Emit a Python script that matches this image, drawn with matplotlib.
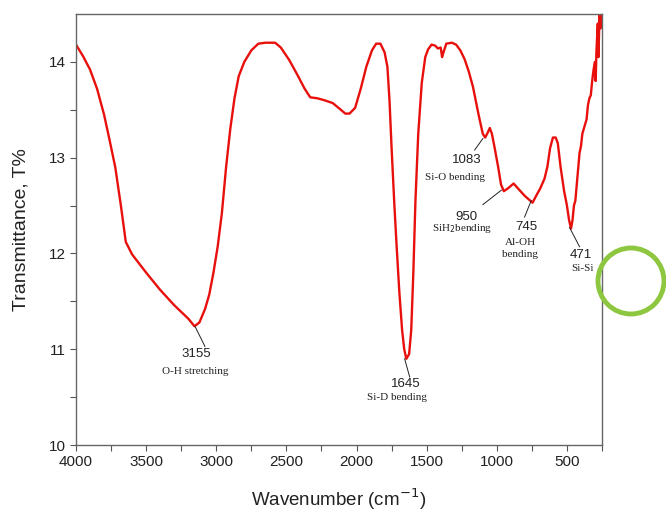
import matplotlib
matplotlib.use("Agg")
import matplotlib.pyplot as plt
from matplotlib.patches import Ellipse

# FTIR spectrum
wavenumber = [4000, 3950, 3900, 3850, 3800, 3760, 3720, 3680, 3645, 3600,
              3500, 3400, 3300, 3200, 3155, 3120, 3080, 3050, 3020, 2990,
              2960, 2930, 2900, 2870, 2840, 2800, 2750, 2700, 2650, 2580,
              2540, 2480, 2420, 2370, 2330, 2280, 2230, 2170, 2120, 2080,
              2050, 2010, 1970, 1930, 1890, 1860, 1830, 1800, 1780, 1765,
              1750, 1730, 1715, 1695, 1675, 1660, 1645, 1625, 1610, 1595,
              1580, 1560, 1535, 1510, 1490, 1465, 1440, 1420, 1400, 1390,
              1380, 1360, 1320, 1290, 1260, 1230, 1200, 1170, 1130, 1100,
              1083, 1065, 1050, 1035, 1015, 990, 970, 950, 920, 880,
              850, 800, 760, 745, 720, 690, 660, 640, 620, 600,
              580, 565, 545, 520, 500, 485, 471, 460, 450, 440,
              425, 410, 400, 390, 370, 360, 350, 340, 330, 320,
              310, 300, 295, 290, 280, 275, 268, 260, 255]
transmittance = [14.18, 14.06, 13.92, 13.72, 13.45, 13.18, 12.90, 12.50, 12.12, 11.99,
                 11.80, 11.62, 11.46, 11.32, 11.24, 11.28, 11.42, 11.57, 11.80, 12.07,
                 12.42, 12.90, 13.30, 13.62, 13.85, 14.00, 14.12, 14.19, 14.20, 14.20,
                 14.15, 14.02, 13.86, 13.72, 13.63, 13.62, 13.60, 13.57, 13.51, 13.46,
                 13.46, 13.52, 13.72, 13.95, 14.12, 14.19, 14.19, 14.10, 13.95, 13.60,
                 13.10, 12.50, 12.10, 11.60, 11.20, 11.00, 10.90, 10.95, 11.20, 11.80,
                 12.55, 13.25, 13.78, 14.05, 14.13, 14.18, 14.17, 14.14, 14.15, 14.05,
                 14.10, 14.19, 14.20, 14.18, 14.12, 14.03, 13.90, 13.74, 13.45, 13.25,
                 13.21, 13.26, 13.31, 13.25, 13.10, 12.90, 12.72, 12.65, 12.68, 12.73,
                 12.68, 12.60, 12.55, 12.53, 12.60, 12.68, 12.78, 12.90, 13.10, 13.21,
                 13.21, 13.15, 12.90, 12.65, 12.50, 12.35, 12.26, 12.35, 12.50, 12.55,
                 12.80, 13.05, 13.12, 13.25, 13.35, 13.40, 13.55, 13.62, 13.65, 13.80,
                 13.92, 14.00, 13.80, 14.10, 14.40, 14.05, 14.50, 14.35, 14.50]

# peak labels: number, assignment
peak_numbers = ["3155", "1645", "1083", "950", "745", "471"]
peak_names = ["O-H stretching", "Si-D bending", "Si-O bending",
              r"SiH$_2$bending", "Al-OH\nbending", "Si-Si"]
# leader line (start on curve, end near label), label anchors
leader_from = [(3152, 11.24), (1657, 10.90), (1099, 13.20), (968, 12.66), (755, 12.55), (481, 12.27)]
leader_to = [(3081, 11.03), (1621, 10.71), (1158, 13.08), (1099, 12.51), (802, 12.38), (410, 12.07)]
num_pos = [(3140, 10.95), (1650, 10.64), (1217, 12.98), (1217, 12.38), (790, 12.28), (398, 11.98)]
name_pos = [(3152, 10.77), (1712, 10.50), (1301, 12.79), (1244, 12.26), (832, 12.05), (389, 11.84)]

fig = plt.figure(figsize=(6.66, 5.14), dpi=100)
ax = fig.add_axes([0.1141, 0.1342, 0.7898, 0.8386])

ax.plot(wavenumber, transmittance, color="#e8100c", lw=1.7)

for a, b in zip(leader_from, leader_to):
    ax.plot([a[0], b[0]], [a[1], b[1]], color="#222222", lw=0.7)
for t, p in zip(peak_numbers, num_pos):
    ax.text(p[0], p[1], t, ha="center", va="center", fontsize=9.5,
            family="Liberation Sans", color="#222222")
for t, p in zip(peak_names, name_pos):
    ax.text(p[0], p[1], t, ha="center", va="center", fontsize=8,
            family="Liberation Serif", color="#222222", linespacing=1.5)

ax.set_xlim(4000, 250)
ax.set_ylim(10, 14.5)
ax.set_xticks([4000, 3500, 3000, 2500, 2000, 1500, 1000, 500])
ax.set_xticks([3750, 3250, 2750, 2250, 1750, 1250, 750, 250], minor=True)
ax.set_yticks([10, 11, 12, 13, 14])
ax.set_yticks([10.5, 11.5, 12.5, 13.5], minor=True)
ax.tick_params(which="both", direction="out", length=4, width=0.8,
               color="#555555", labelsize=11)
for lab in ax.get_xticklabels() + ax.get_yticklabels():
    lab.set_family("Liberation Sans")
    lab.set_color("#222222")
for s in ax.spines.values():
    s.set_color("#666666")
    s.set_linewidth(1.0)

ax.set_xlabel("Wavenumber (cm$^{-1}$)", fontsize=13.5, family="Liberation Sans",
              color="#222222", labelpad=12)
ax.set_ylabel("Transmittance, T%", fontsize=14, family="Liberation Sans",
              color="#222222", labelpad=14)

# green marker circle at the right edge
fig.patches.append(Ellipse((631 / 666, 1 - 281 / 514), 66 / 666, 66 / 514,
                           transform=fig.transFigure, fill=False,
                           edgecolor="#8dc63f", lw=3.5))

fig.savefig("out.png", dpi=100)
